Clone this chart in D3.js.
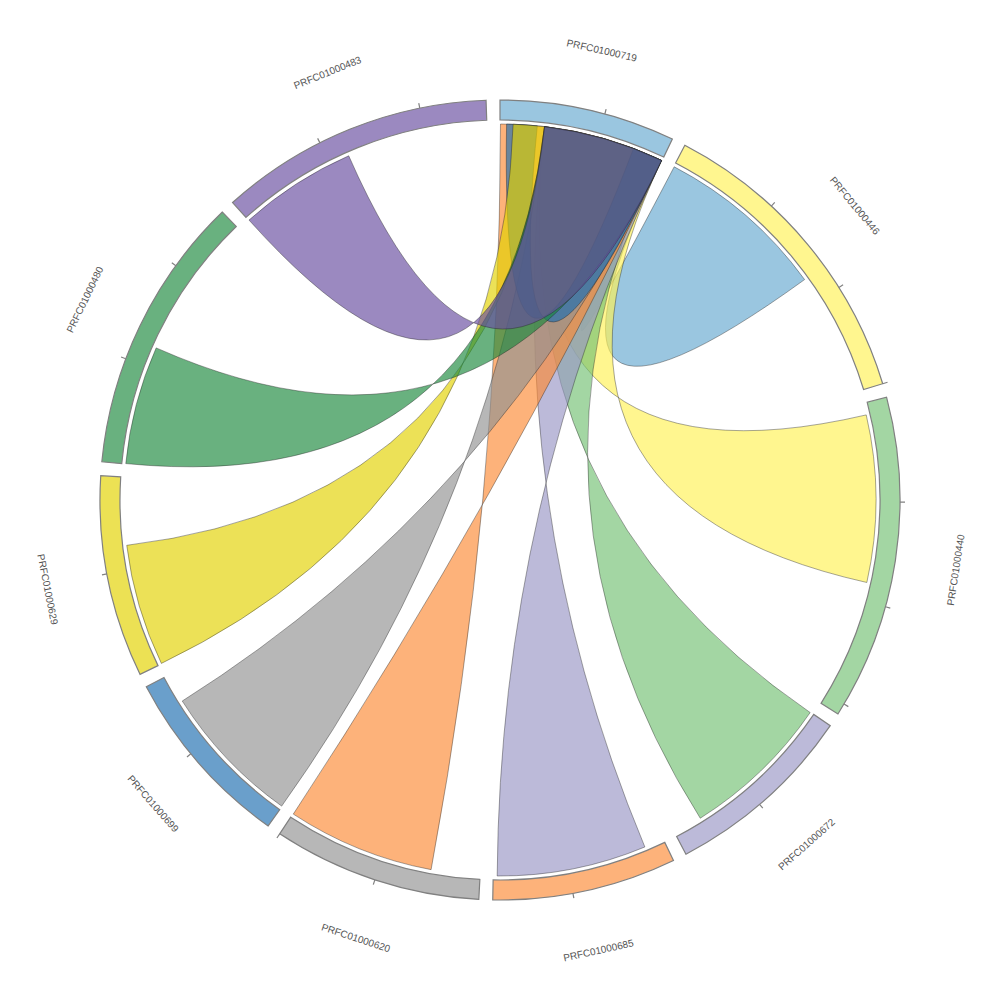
<!DOCTYPE html>
<html>
<head>
<meta charset="utf-8">
<style>
  body { margin: 0; background: #fff; }
  .label { font-family: "Liberation Sans", Arial, sans-serif; font-size: 10px; fill: #555; }
  .group { stroke: #808080; stroke-width: 1.2; }
  .tick { stroke: #808080; stroke-width: 1.2; }
  .chord { stroke: #222; stroke-width: 0.5; stroke-opacity: 0.8; }
</style>
<script src="https://cdn.jsdelivr.net/npm/d3@7"></script>
</head>
<body>
<div id="chart"></div>
<script>
(function (d3) {
    'use strict';

    // Contigs, clockwise from the top.
    var names = [
        'PRFC01000719', 'PRFC01000446', 'PRFC01000440', 'PRFC01000672', 'PRFC01000685',
        'PRFC01000620', 'PRFC01000699', 'PRFC01000629', 'PRFC01000480', 'PRFC01000483'
    ];
    var lengths = [1680, 3000, 3110, 1840, 1760, 2000, 1760, 1930, 2670, 2630];
    var colors = [
        '#9ac6e0', '#fff68f', '#a3d6a3', '#bcbad9', '#fdb27a',
        '#b7b7b7', '#6a9fcb', '#ece154', '#69b17f', '#9b89c0'
    ];

    // Links, in drawing order: source contig and span, target contig and span.
    var linkSource = [1, 2, 3, 4, 5, 6, 0, 7, 8, 9];
    var linkStart  = [5, 120, 5, 200, 495, 5, 66, 5, 5, 5];
    var linkEnd    = [1750, 1815, 1545, 1720, 1995, 1465, 375, 1245, 1210, 1200];
    var linkTarget = [0, 0, 0, 0, 0, 0, 0, 0, 0, 0];
    var targetStart = [1567, 448, 448, 448, 5, 448, 1369, 132, 448, 448];
    var targetEnd   = [1672, 1675, 1610, 1675, 1675, 1675, 1675, 448, 1675, 1675];
    var linkColor  = [0, 1, 2, 3, 4, 5, 6, 7, 8, 9];

    var tickStep = 1000;
    var linkOpacity = 0.66;

    // Dimensions of the chart.
    var width = 1000;
    var height = 1000;
    var innerRadius = 380;
    var outerRadius = 400;
    var chordRadius = 376;
    var labelRadius = 461;
    var pad = 2 * Math.PI / 180;

    var total = d3.sum(lengths);
    var angle = d3.scaleLinear()
        .domain([0, total])
        .range([0, 2 * Math.PI - names.length * pad]);

    // Start angle of every contig.
    var starts = [];
    var acc = 0;
    lengths.forEach(function (len, i) {
        starts.push(angle(acc) + i * pad);
        acc += len;
    });

    function pos(group, value) {
        return starts[group] + angle(value);
    }

    function point(a, r) {
        return [r * Math.sin(a), -r * Math.cos(a)];
    }

    // Fill that shows the palette colour when laid once on white.
    function linkFill(c) {
        var rgb = d3.rgb(c);
        var k = 255 * (1 - linkOpacity);
        function ch(v) { return Math.max(0, Math.min(255, (v - k) / linkOpacity)); }
        return d3.rgb(ch(rgb.r), ch(rgb.g), ch(rgb.b)).toString();
    }

    // Ribbon joining start to start and end to end.
    function ribbon(s0, s1, t0, t1) {
        var r = chordRadius;
        var h = Math.PI / 2;
        var p = d3.path();
        var ps0 = point(s0, r);
        var pt1 = point(t1, r);
        p.moveTo(ps0[0], ps0[1]);
        p.arc(0, 0, r, s0 - h, s1 - h);
        p.quadraticCurveTo(0, 0, pt1[0], pt1[1]);
        p.arc(0, 0, r, t1 - h, t0 - h, true);
        p.quadraticCurveTo(0, 0, ps0[0], ps0[1]);
        p.closePath();
        return p.toString();
    }

    var svg = d3.select('#chart').append('svg')
        .attr('width', width)
        .attr('height', height);

    var vis = svg.append('g')
        .attr('transform', 'translate(' + width / 2 + ',' + height / 2 + ')');

    var groups = names.map(function (name, i) {
        return {
            index: i,
            name: name,
            startAngle: starts[i],
            endAngle: starts[i] + angle(lengths[i])
        };
    });

    var arc = d3.arc()
        .innerRadius(innerRadius)
        .outerRadius(outerRadius);

    // Links.
    var links = linkSource.map(function (g, i) {
        return {
            s0: pos(g, linkStart[i]),
            s1: pos(g, linkEnd[i]),
            t0: pos(linkTarget[i], targetStart[i]),
            t1: pos(linkTarget[i], targetEnd[i]),
            color: colors[linkColor[i]]
        };
    });

    vis.append('g')
        .selectAll('path')
        .data(links)
        .enter().append('path')
        .attr('class', 'chord')
        .attr('fill', function (d) { return linkFill(d.color); })
        .attr('fill-opacity', linkOpacity)
        .attr('d', function (d) { return ribbon(d.s0, d.s1, d.t0, d.t1); });

    // Contig arcs.
    vis.append('g')
        .selectAll('path')
        .data(groups)
        .enter().append('path')
        .attr('class', 'group')
        .attr('fill', function (d) { return colors[d.index]; })
        .attr('d', arc);

    // Ticks every tickStep.
    var ticks = [];
    groups.forEach(function (g) {
        d3.range(tickStep, lengths[g.index] + 1, tickStep).forEach(function (v) {
            ticks.push(pos(g.index, v));
        });
    });

    vis.append('g')
        .selectAll('line')
        .data(ticks)
        .enter().append('line')
        .attr('class', 'tick')
        .attr('x1', function (a) { return point(a, outerRadius)[0]; })
        .attr('y1', function (a) { return point(a, outerRadius)[1]; })
        .attr('x2', function (a) { return point(a, outerRadius + 5)[0]; })
        .attr('y2', function (a) { return point(a, outerRadius + 5)[1]; });

    // Labels, tangential, flipped on the lower half.
    vis.append('g')
        .selectAll('text')
        .data(groups)
        .enter().append('text')
        .attr('class', 'label')
        .attr('text-anchor', 'middle')
        .attr('dominant-baseline', 'central')
        .attr('transform', function (d) {
            var a = (d.startAngle + d.endAngle) / 2;
            var deg = a * 180 / Math.PI;
            var p = point(a, labelRadius);
            var rot = (deg > 90 && deg < 270) ? deg - 180 : deg;
            return 'translate(' + p[0] + ',' + p[1] + ') rotate(' + rot + ')';
        })
        .text(function (d) { return d.name; });

})(d3);
</script>
</body>
</html>
